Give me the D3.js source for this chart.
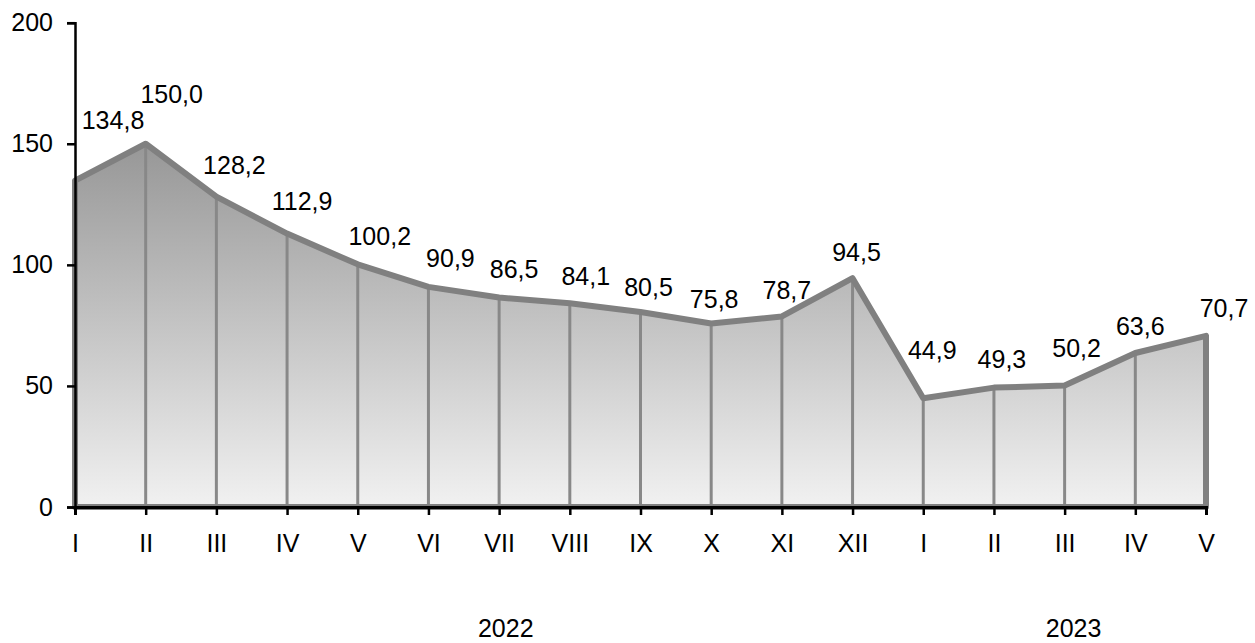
<!DOCTYPE html>
<html>
<head>
<meta charset="utf-8">
<script src="https://cdn.jsdelivr.net/npm/d3@7"></script>
<style>
  body { margin: 0; background: #fff; }
  text { font-family: Arial, "Liberation Sans", sans-serif; fill: #000; }
</style>
</head>
<body>
<svg id="chart"></svg>
<script>
// chart data
const months = ["I", "II", "III", "IV", "V", "VI", "VII", "VIII", "IX", "X", "XI", "XII",
                "I", "II", "III", "IV", "V"];
const values = [134.8, 150.0, 128.2, 112.9, 100.2, 90.9, 86.5, 84.1, 80.5, 75.8, 78.7, 94.5,
                44.9, 49.3, 50.2, 63.6, 70.7];
const years = ["2022", "2023"];
const yearSpan = [12, 5];          // months per year
const yTicks = [0, 50, 100, 150, 200];

// label nudges (text centre relative to point), styling only
const labelNudge = [[38, -60], [26, -50], [18, -31], [15, -32], [22, -28], [22, -29],
                    [15, -28], [16, -27], [8, -25], [3, -24], [5, -26], [4, -26],
                    [9, -48], [8, -28], [12, -37], [5, -27], [18, -28]];
const yearNudge = [42, 9];
const fontSize = 25;

const width = 1255, height = 643;
const svg = d3.select("#chart").attr("width", width).attr("height", height);

const x = d3.scaleLinear().domain([0, values.length - 1]).range([75, 1206]);
const y = d3.scaleLinear().domain([0, 200]).range([507, 22.7]);

const defs = svg.append("defs");
const grad = defs.append("linearGradient")
    .attr("id", "fillGrad")
    .attr("gradientUnits", "userSpaceOnUse")
    .attr("x1", 0).attr("x2", 0)
    .attr("y1", y(150)).attr("y2", y(0));
grad.append("stop").attr("offset", "0%").attr("stop-color", "#979797");
grad.append("stop").attr("offset", "100%").attr("stop-color", "#f1f1f1");

const area = d3.area()
    .x((d, i) => x(i))
    .y0(y(0))
    .y1(d => y(d));

// filled area
svg.append("path")
    .datum(values)
    .attr("d", area)
    .attr("fill", "url(#fillGrad)");

// drop lines
svg.append("g")
    .selectAll("line")
    .data(values)
    .enter()
    .append("line")
    .attr("x1", (d, i) => x(i))
    .attr("x2", (d, i) => x(i))
    .attr("y1", y(0))
    .attr("y2", d => y(d))
    .attr("stroke", "#888")
    .attr("stroke-width", 3);

// outline of the area
svg.append("path")
    .datum(values)
    .attr("d", area)
    .attr("fill", "none")
    .attr("stroke", "#808080")
    .attr("stroke-width", 6)
    .attr("stroke-linejoin", "round");

// y axis
const yAxis = svg.append("g")
    .attr("transform", `translate(${x(0)},0)`)
    .call(d3.axisLeft(y).tickValues(yTicks).tickSize(8).tickPadding(14).tickFormat(d3.format("d")));
yAxis.select(".domain").attr("stroke", "#000").attr("stroke-width", 2.5);
yAxis.selectAll(".tick line").attr("stroke", "#000").attr("stroke-width", 2.5);
yAxis.selectAll("text").attr("font-size", fontSize).attr("font-family", "Arial, 'Liberation Sans', sans-serif");

// x axis
const xAxis = svg.append("g")
    .attr("transform", `translate(0,${y(0)})`)
    .call(d3.axisBottom(x).tickValues(d3.range(values.length)).tickSize(8).tickPadding(19)
        .tickFormat(i => months[i]));
xAxis.select(".domain").attr("stroke", "#000").attr("stroke-width", 3);
xAxis.selectAll(".tick line").attr("stroke", "#000").attr("stroke-width", 2.5);
xAxis.selectAll("text").attr("font-size", fontSize).attr("font-family", "Arial, 'Liberation Sans', sans-serif");

// year labels
let start = 0;
const yearPos = yearSpan.map((n, i) => {
    const c = (x(start) + x(start + n - 1)) / 2 + yearNudge[i];
    start += n;
    return c;
});
svg.append("g")
    .selectAll("text")
    .data(years)
    .enter()
    .append("text")
    .attr("x", (d, i) => yearPos[i])
    .attr("y", 637)
    .attr("text-anchor", "middle")
    .attr("font-size", fontSize)
    .text(d => d);

// value labels
svg.append("g")
    .selectAll("text")
    .data(values)
    .enter()
    .append("text")
    .attr("x", (d, i) => x(i) + labelNudge[i][0])
    .attr("y", (d, i) => y(d) + labelNudge[i][1])
    .attr("dy", "0.35em")
    .attr("text-anchor", "middle")
    .attr("font-size", fontSize)
    .text(d => d.toFixed(1).replace(".", ","));
</script>
</body>
</html>
